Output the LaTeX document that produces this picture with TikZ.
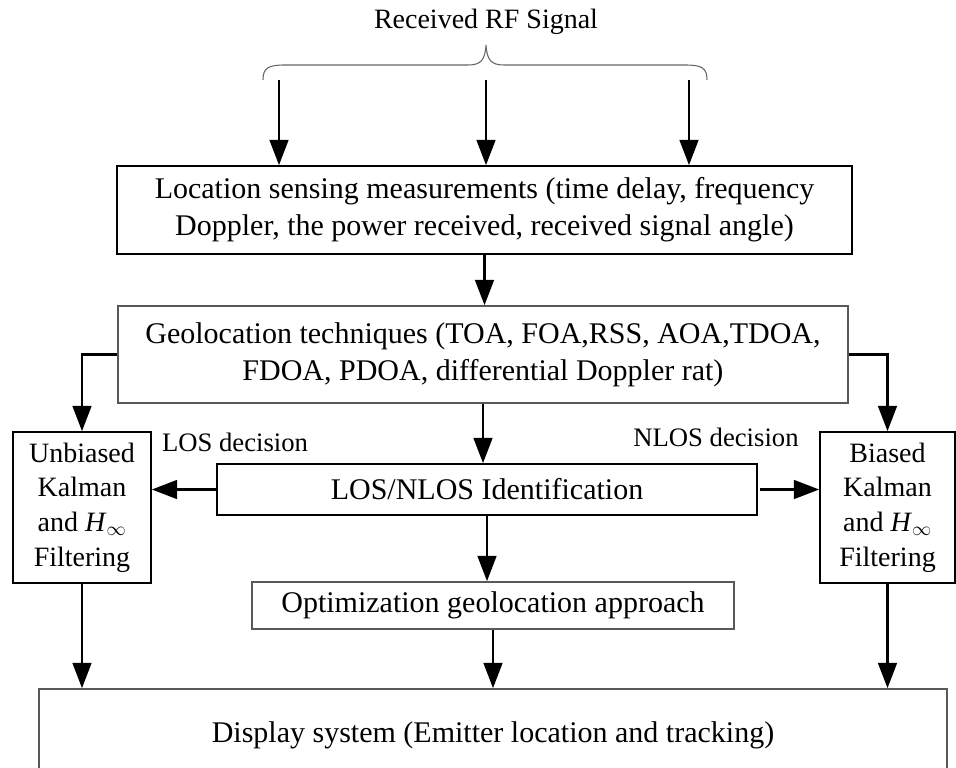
\documentclass[tikz,border=0pt]{standalone}
\usepackage{fontspec}
\setmainfont{Liberation Serif}
\usetikzlibrary{arrows.meta}

\begin{document}
\begin{tikzpicture}[
    x=0.75pt, y=-0.75pt,
    every node/.style={font=\fontsize{22.5}{28}\selectfont},
    box/.style={
        draw=black,
        line width=1.2pt,
        align=center,
        inner sep=0pt
    },
    greybox/.style={box, draw=black!65},
    sidebox/.style={box, font=\fontsize{21}{26}\selectfont},
    note/.style={font=\fontsize{20}{24}\selectfont},
    arr/.style={line width=2pt, -{Triangle[length=19pt,width=14pt]}}
]

    \useasboundingbox (0,0) rectangle (956,767);

    % incoming signal
    \node[note, font=\fontsize{21}{24}\selectfont] (rf) at (486,22) {Received RF Signal};
    \draw[black!60, line width=0.8pt]
        (263,80) .. controls (263,68) and (268,65) .. (285,65)
        -- (468,65) .. controls (481,65) and (485,60) .. (486,45)
        .. controls (487,60) and (491,65) .. (504,65)
        -- (685,65) .. controls (702,65) and (707,68) .. (707,80);
    \coordinate (s1) at (279,80);
    \coordinate (s2) at (486,80);
    \coordinate (s3) at (689,80);

    % main column
    \node[box, minimum width=551pt, minimum height=66pt] (sense) at (484.5,210)
        {Location sensing measurements (time delay, frequency\\
         Doppler, the power received, received signal angle)};

    \node[greybox, minimum width=547.5pt, minimum height=72.75pt] (geo) at (483,354.5)
        {Geolocation techniques (TOA, FOA,RSS, AOA,TDOA,\\
         FDOA, PDOA, differential Doppler rat)};

    \node[box, minimum width=405pt, minimum height=38.25pt] (los) at (487,489.5)
        {LOS/NLOS Identification};

    \node[greybox, minimum width=361.5pt, minimum height=35.25pt] (opt) at (493,605.5)
        {Optimization geolocation approach};

    \node[greybox, minimum width=681pt, minimum height=69pt] (disp) at (493,735)
        {Display system (Emitter location and tracking)};

    % filters
    \node[sidebox, minimum width=103.5pt, minimum height=113.25pt] (unb) at (82,507.5)
        {Unbiased\\Kalman\\and \textit{H}$_\infty$\\Filtering};
    \node[sidebox, minimum width=101.25pt, minimum height=113.25pt] (bia) at (887.5,507.5)
        {Biased\\Kalman\\and \textit{H}$_\infty$\\Filtering};

    \node[note] (losd) at (235,442) {LOS decision};
    \node[note] (nlosd) at (716,437) {NLOS decision};

    % connectors
    \foreach \s in {s1,s2,s3}
        \draw[arr] (\s) -- (\s |- sense.north);
    \draw[arr] (sense.south) -- (sense.south |- geo.north);
    \draw[arr] (geo.west) -| (unb.north);
    \draw[arr] (geo.east) -| (bia.north);
    \draw[arr] (geo.south) -- (geo.south |- los.north);
    \draw[arr] (los.west) -- (los.west -| unb.east);
    \draw[arr] ([xshift=2pt]los.east) -- (los.east -| bia.west);
    \draw[arr] (los.south) -- (los.south |- opt.north);
    \draw[arr] (unb.south) -- (unb.south |- disp.north);
    \draw[arr] (opt.south) -- (opt.south |- disp.north);
    \draw[arr] (bia.south) -- (bia.south |- disp.north);

\end{tikzpicture}
\end{document}
